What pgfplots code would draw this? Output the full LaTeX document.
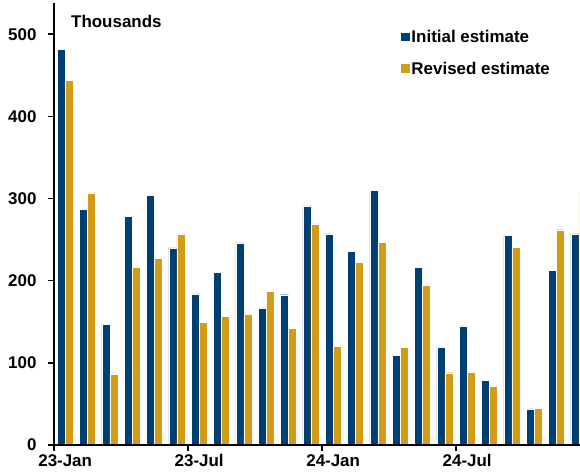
\documentclass[border=0pt]{standalone}
\usepackage{pgfplots}
\pgfplotsset{compat=1.18}
\usepackage{fontspec}
\setmainfont{Liberation Sans}

\definecolor{initblue}{RGB}{0,63,114}
\definecolor{revgold}{RGB}{212,156,20}

\newcommand{\chartfont}{\fontsize{17}{20}\selectfont\bfseries}

\begin{document}
\begin{tikzpicture}
\begin{axis}[
  at={(54bp,28bp)}, anchor=south west,
  scale only axis, width=536bp, height=442bp,
  xmin=0, xmax=24, ymin=0, ymax=538,
  axis x line*=bottom, axis y line*=left,
  axis line style={line width=1.6bp, black, -},
  axis on top,
  ybar=0pt, bar width=8bp,
  xtick={0,6,12,18},
  xticklabels={23-Jan,23-Jul,24-Jan,24-Jul},
  xticklabel style={xshift=11.17bp},
  yticklabel style={xshift=-8bp},
  ytick={0,100,...,500},
  tick style={draw=black, line width=1.6bp},
  major tick length=6bp, tick align=outside,
  tick label style={font=\chartfont},
  /pgf/number format/assume math mode=true,
  every axis plot/.append style={draw=white, line width=0.3bp},
  legend style={at={(0.6455,0.942)}, anchor=north west, draw=none, fill=none,
    inner sep=0pt, font=\chartfont, row sep=15bp,
    nodes={inner sep=1.5bp}},
  legend cell align=left,
  legend image code/.code={\fill[#1] (0bp,-4bp) rectangle (9.5bp,5.5bp);},
]
% monthly payroll change, first print
\addplot[fill=initblue] coordinates {
  (0.5,482) (1.5,287) (2.5,147) (3.5,278) (4.5,304) (5.5,240)
  (6.5,184) (7.5,210) (8.5,246) (9.5,166) (10.5,183) (11.5,291)
  (12.5,257) (13.5,236) (14.5,310) (15.5,109) (16.5,216) (17.5,119)
  (18.5,145) (19.5,79) (20.5,255) (21.5,44) (22.5,213) (23.5,257)};
\addlegendentry{Initial estimate}
% the same months after revision
\addplot[fill=revgold] coordinates {
  (0.5,444) (1.5,307) (2.5,86) (3.5,216) (4.5,227) (5.5,257)
  (6.5,149) (7.5,157) (8.5,159) (9.5,187) (10.5,142) (11.5,269)
  (12.5,120) (13.5,223) (14.5,247) (15.5,119) (16.5,194) (17.5,88)
  (18.5,89) (19.5,72) (20.5,241) (21.5,45) (22.5,262) (23.5,307)};
\addlegendentry{Revised estimate}
\end{axis}
\node[anchor=base west, inner sep=0pt, font=\chartfont] at (71bp,445.3bp) {Thousands};
\pgfresetboundingbox
\useasboundingbox (0,0) rectangle (580bp,473bp);
\end{tikzpicture}
\end{document}
